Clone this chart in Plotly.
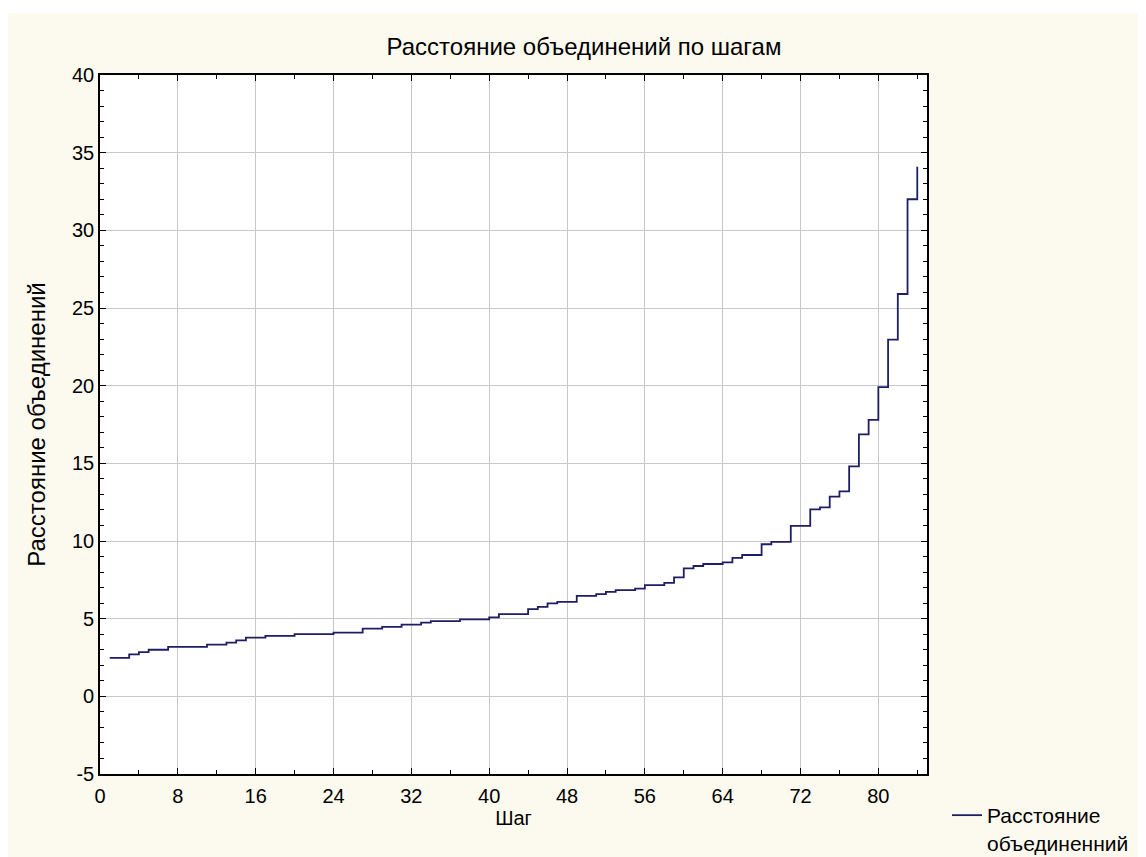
import plotly.graph_objects as go

steps = list(range(1, 85))
distance = [
    2.47, 2.47, 2.70, 2.85, 3.00, 3.00, 3.18, 3.18, 3.18, 3.18,
    3.33, 3.33, 3.46, 3.60, 3.78, 3.78, 3.89, 3.89, 3.89, 4.00,
    4.00, 4.00, 4.00, 4.10, 4.10, 4.10, 4.36, 4.36, 4.47, 4.47,
    4.62, 4.62, 4.75, 4.84, 4.84, 4.84, 4.95, 4.95, 4.95, 5.08,
    5.29, 5.29, 5.29, 5.61, 5.76, 5.98, 6.08, 6.08, 6.47, 6.47,
    6.58, 6.73, 6.84, 6.84, 6.94, 7.16, 7.16, 7.31, 7.66, 8.24,
    8.39, 8.52, 8.52, 8.62, 8.92, 9.10, 9.10, 9.79, 9.95, 9.95,
    10.97, 10.97, 12.04, 12.17, 12.86, 13.20, 14.80, 16.87, 17.80, 19.90,
    22.97, 25.90, 32.00, 34.10,
]
x_ticks = [0, 8, 16, 24, 32, 40, 48, 56, 64, 72, 80]
y_ticks = [-5, 0, 5, 10, 15, 20, 25, 30, 35, 40]
y_tick_labels = ["-5", "0", "5", "10", "15", "20", "25", "30", "35", "40"]

title_text = "Расстояние объединений по шагам"
x_title = "Шаг"
y_title = "Расстояние объединений"
series_name = "Расстояние<br>объединенний"

# page offset of 8px (browser body margin) is accounted for here
W, H = 1138, 849
ML, MR, MT, MB = 92, 219, 67, 83
pw, ph = W - ML - MR, H - MT - MB

font = "Liberation Sans, Arial, sans-serif"
line_color = "#1E1E66"

fig = go.Figure()
fig.add_trace(go.Scatter(
    x=steps, y=distance, mode="lines", line_shape="hv",
    line=dict(color=line_color, width=1.8), name=series_name,
    showlegend=True,
))

axis_common = dict(
    showline=True, linecolor="black", linewidth=1.6, mirror="ticks",
    ticks="inside", ticklen=6, tickcolor="black", tickwidth=1,
    showgrid=True, gridcolor="#C8C8C8", gridwidth=1,
    zeroline=False, tickfont=dict(family=font, size=20, color="black"),
)

fig.update_layout(
    width=W, height=H,
    margin=dict(l=ML, r=MR, t=MT, b=MB, pad=0),
    paper_bgcolor="#FCFAEE", plot_bgcolor="white",
    font=dict(family=font, color="black"),
    title=dict(text=title_text, x=576 / W, xanchor="center",
               y=1 - 39 / H, yanchor="middle",
               font=dict(family=font, size=24, color="black")),
    xaxis=dict(range=[0, 85], tickvals=x_ticks, ticklabelstandoff=3,
               title=dict(text=x_title, font=dict(family=font, size=20), standoff=0),
               minor=dict(dtick=4, tick0=0, ticks="inside", ticklen=4, tickcolor="black", showgrid=False),
               **axis_common),
    yaxis=dict(range=[-5, 40], tickvals=y_ticks, ticktext=y_tick_labels,
               title=dict(text=y_title, font=dict(family=font, size=24), standoff=20),
               minor=dict(dtick=1, tick0=0, ticks="inside", ticklen=4, tickcolor="black", showgrid=False),
               **axis_common),
    legend=dict(x=(987 - 8 - 40) / W, xref="container", y=1 - 787 / H, yref="container",
                xanchor="left", yanchor="top", bgcolor="rgba(0,0,0,0)",
                font=dict(family=font, size=21, color="black"),
                itemwidth=30, tracegroupgap=0, valign="top"),
)

# white strip at the top of the page (scan border)
fig.add_shape(type="rect", xref="paper", yref="paper",
              x0=-ML / pw - 0.01, x1=(W - ML) / pw + 0.01, y0=1 + (MT - 5) / ph, y1=1 + MT / ph + 0.01,
              fillcolor="white", line_width=0, layer="below")

fig.write_html("out.html")
